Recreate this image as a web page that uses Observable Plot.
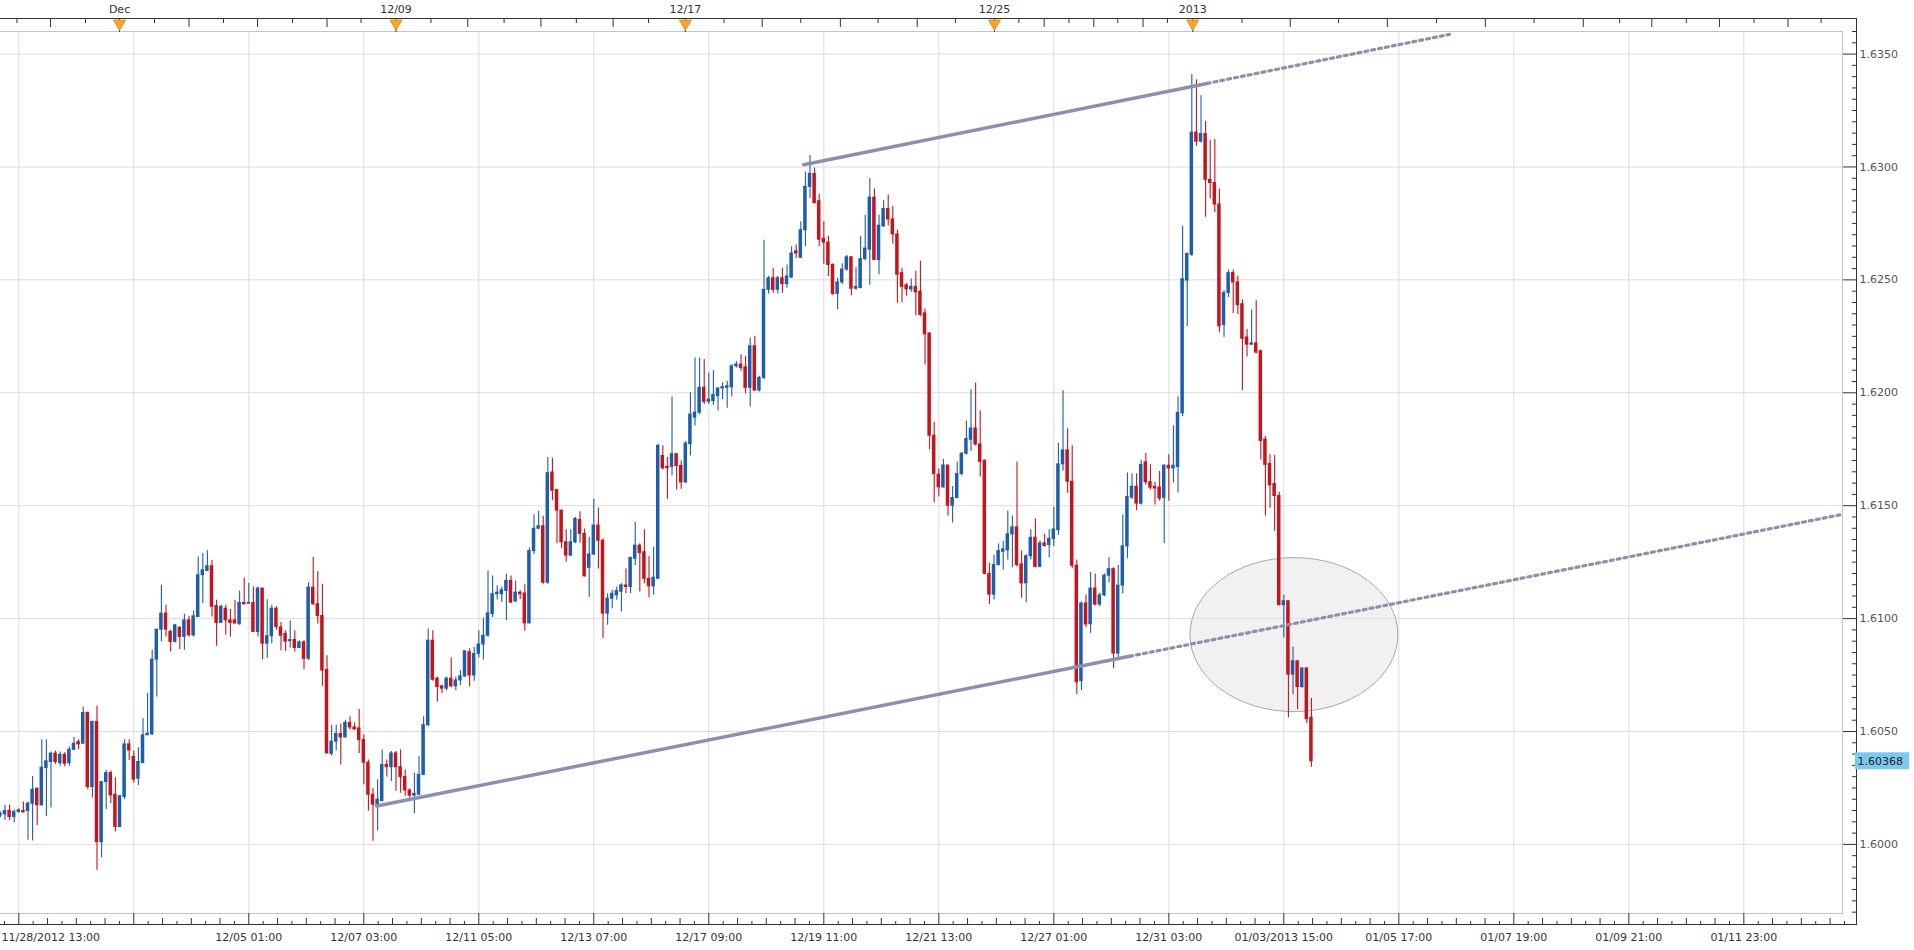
<!DOCTYPE html>
<html><head><meta charset="utf-8">
<script src="https://cdn.jsdelivr.net/npm/d3@7"></script>
<script src="https://cdn.jsdelivr.net/npm/@observablehq/plot@0.6"></script>
<style>html,body{margin:0;padding:0;background:#fff;overflow:hidden}</style>
</head><body><div id="chart"></div>
<script>
// ---- data: 2-hour candles, bar number of the first candle ----
const firstBar = -4;
const open = [
1.60127,1.60133,1.60148,1.60121,1.60143,1.60148,1.60148,1.60180,1.60247,1.60173,
1.60338,1.60365,1.60402,1.60360,1.60397,1.60360,1.60419,1.60453,1.60446,1.60583,
1.60254,1.60542,1.60010,1.60276,1.60316,1.60220,1.60077,1.60210,1.60443,1.60387,
1.60291,1.60360,1.60483,1.60487,1.60818,1.60951,1.61022,1.60941,1.60897,1.60960,
1.60919,1.60992,1.60926,1.61007,1.61192,1.61211,1.61232,1.61055,1.60981,1.61044,
1.60992,1.60992,1.60975,1.61069,1.61066,1.61069,1.60941,1.61133,1.60889,1.60922,
1.61044,1.60961,1.60932,1.60900,1.60905,1.60870,1.60895,1.60822,1.61137,1.61064,
1.61012,1.60773,1.60401,1.60455,1.60489,1.60474,1.60538,1.60518,1.60514,1.60462,
1.60362,1.60220,1.60176,1.60191,1.60352,1.60342,1.60403,1.60342,1.60298,1.60239,
1.60216,1.60220,1.60308,1.60528,1.60902,1.60734,1.60700,1.60690,1.60734,1.60700,
1.60726,1.60744,1.60851,1.60748,1.60844,1.60885,1.60924,1.61020,1.61108,1.61108,
1.61123,1.61167,1.61076,1.61115,1.61111,1.60979,1.61299,1.61398,1.61409,1.61159,
1.61647,1.61569,1.61478,1.61338,1.61279,1.61338,1.61437,1.61375,1.61225,1.61284,
1.61412,1.61345,1.61022,1.61088,1.61103,1.61119,1.61147,1.61140,1.61265,1.61323,
1.61294,1.61176,1.61143,1.61176,1.61720,1.61672,1.61672,1.61728,1.61676,1.61603,
1.61772,1.61890,1.61912,1.62022,1.61960,1.61963,1.61985,1.62019,1.62022,1.62025,
1.62117,1.62125,1.62113,1.62022,1.62206,1.62010,1.62066,1.62456,1.62507,1.62456,
1.62507,1.62481,1.62510,1.62627,1.62598,1.62720,1.62912,1.62969,1.62848,1.62681,
1.62665,1.62566,1.62438,1.62489,1.62546,1.62600,1.62461,1.62464,1.62592,1.62634,
1.62864,1.62588,1.62737,1.62814,1.62768,1.62701,1.62530,1.62476,1.62458,1.62469,
1.62448,1.62352,1.62262,1.61810,1.61637,1.61581,1.61678,1.61500,1.61534,1.61640,
1.61730,1.61792,1.61842,1.61771,1.61699,1.61198,1.61106,1.61237,1.61296,1.61302,
1.61373,1.61404,1.61240,1.61156,1.61276,1.61358,1.61229,1.61333,1.61326,1.61353,
1.61392,1.61683,1.61745,1.61606,1.61234,1.60723,1.61067,1.60975,1.61133,1.61062,
1.61103,1.61190,1.61219,1.60845,1.61146,1.61320,1.61535,1.61584,1.61509,1.61692,
1.61604,1.61584,1.61580,1.61535,1.61677,1.61665,1.61671,1.61909,1.62497,1.62611,
1.63152,1.63112,1.63146,1.62943,1.62929,1.62834,1.62300,1.62442,1.62530,1.62489,
1.62392,1.62245,1.62213,1.62219,1.62184,1.61793,1.61685,1.61596,1.61543,1.61060,
1.61077,1.60752,1.60811,1.60697,1.60779,1.60561];
const high = [
1.60143,1.60173,1.60173,1.60154,1.60158,1.60188,1.60188,1.60301,1.60247,1.60464,
1.60464,1.60409,1.60414,1.60409,1.60406,1.60431,1.60473,1.60464,1.60609,1.60583,
1.60546,1.60613,1.60276,1.60328,1.60325,1.60295,1.60217,1.60464,1.60464,1.60414,
1.60428,1.60557,1.60668,1.60860,1.60951,1.61148,1.61059,1.60948,1.60975,1.60963,
1.61019,1.61010,1.61034,1.61273,1.61288,1.61300,1.61258,1.61081,1.61059,1.61059,
1.61040,1.61081,1.61122,1.61180,1.61155,1.61140,1.61140,1.61133,1.61084,1.61059,
1.61052,1.60983,1.60946,1.60990,1.60946,1.60902,1.60902,1.61159,1.61272,1.61208,
1.61152,1.60836,1.60528,1.60528,1.60533,1.60550,1.60565,1.60538,1.60597,1.60484,
1.60374,1.60249,1.60286,1.60418,1.60374,1.60411,1.60411,1.60418,1.60330,1.60245,
1.60315,1.60389,1.60565,1.60954,1.60946,1.60741,1.60704,1.60741,1.60826,1.60741,
1.60770,1.60858,1.60866,1.60873,1.60946,1.61002,1.61211,1.61189,1.61145,1.61140,
1.61196,1.61189,1.61167,1.61123,1.61152,1.61313,1.61460,1.61475,1.61453,1.61713,
1.61710,1.61573,1.61481,1.61393,1.61393,1.61448,1.61473,1.61397,1.61360,1.61529,
1.61490,1.61353,1.61110,1.61125,1.61140,1.61154,1.61220,1.61272,1.61426,1.61331,
1.61393,1.61275,1.61316,1.61772,1.61765,1.61713,1.61981,1.61731,1.61698,1.61784,
1.62000,1.62154,1.62154,1.62147,1.62088,1.62098,1.62022,1.62044,1.62051,1.62125,
1.62137,1.62169,1.62162,1.62243,1.62250,1.62073,1.62676,1.62515,1.62551,1.62515,
1.62551,1.62566,1.62647,1.62654,1.62757,1.62978,1.63051,1.62995,1.62879,1.62758,
1.62693,1.62572,1.62507,1.62572,1.62608,1.62603,1.62554,1.62693,1.62786,1.62949,
1.62902,1.62786,1.62851,1.62876,1.62825,1.62721,1.62551,1.62484,1.62504,1.62538,
1.62582,1.62371,1.62267,1.61869,1.61663,1.61705,1.61678,1.61585,1.61694,1.61736,
1.61875,1.62015,1.62043,1.61919,1.61702,1.61245,1.61281,1.61330,1.61342,1.61477,
1.61454,1.61694,1.61299,1.61283,1.61393,1.61441,1.61345,1.61373,1.61393,1.61493,
1.61776,1.62009,1.61841,1.61765,1.61260,1.61074,1.61105,1.61204,1.61198,1.61113,
1.61198,1.61271,1.61225,1.61235,1.61459,1.61645,1.61641,1.61641,1.61701,1.61732,
1.61681,1.61604,1.61651,1.61681,1.61726,1.61854,1.61982,1.62736,1.62619,1.63410,
1.63386,1.63315,1.63203,1.63118,1.63122,1.62903,1.62452,1.62544,1.62544,1.62517,
1.62412,1.62280,1.62367,1.62408,1.62189,1.61807,1.61726,1.61722,1.61560,1.61103,
1.61077,1.60874,1.60811,1.60782,1.60782,1.60646];
const low = [
1.60118,1.60106,1.60106,1.60095,1.60139,1.60139,1.60018,1.60015,1.60084,1.60170,
1.60124,1.60161,1.60354,1.60346,1.60343,1.60346,1.60416,1.60419,1.60443,1.60242,
1.60205,1.59885,1.59941,1.60154,1.60180,1.60055,1.60077,1.60198,1.60372,1.60272,
1.60261,1.60360,1.60483,1.60483,1.60653,1.60897,1.60919,1.60852,1.60892,1.60863,
1.60860,1.60919,1.60919,1.61007,1.61066,1.61211,1.61007,1.60877,1.60981,1.60926,
1.60919,1.60978,1.60970,1.61063,1.61063,1.60941,1.60919,1.60818,1.60823,1.60889,
1.60948,1.60858,1.60855,1.60870,1.60851,1.60866,1.60773,1.60814,1.61057,1.60976,
1.60700,1.60400,1.60392,1.60415,1.60352,1.60470,1.60506,1.60506,1.60403,1.60264,
1.60147,1.60014,1.60059,1.60191,1.60298,1.60279,1.60235,1.60227,1.60213,1.60191,
1.60136,1.60216,1.60304,1.60521,1.60723,1.60631,1.60668,1.60680,1.60694,1.60680,
1.60704,1.60738,1.60697,1.60723,1.60826,1.60817,1.60917,1.61005,1.61082,1.61071,
1.60990,1.61067,1.61071,1.61085,1.60944,1.60976,1.61284,1.61394,1.61152,1.61152,
1.61522,1.61331,1.61309,1.61250,1.61275,1.61332,1.61334,1.61184,1.61095,1.61279,
1.61220,1.60912,1.60970,1.61044,1.61081,1.61029,1.61110,1.61110,1.61235,1.61118,
1.61154,1.61092,1.61103,1.61176,1.61657,1.61529,1.61632,1.61569,1.61573,1.61598,
1.61720,1.61853,1.61904,1.61948,1.61948,1.61945,1.61919,1.61970,1.61931,1.61981,
1.62110,1.62095,1.61995,1.61937,1.62007,1.62004,1.62058,1.62437,1.62441,1.62437,
1.62441,1.62463,1.62507,1.62595,1.62595,1.62647,1.62860,1.62836,1.62647,1.62569,
1.62515,1.62430,1.62368,1.62479,1.62538,1.62430,1.62453,1.62461,1.62585,1.62476,
1.62585,1.62523,1.62732,1.62740,1.62659,1.62396,1.62399,1.62427,1.62445,1.62340,
1.62337,1.62123,1.61748,1.61513,1.61539,1.61578,1.61454,1.61423,1.61531,1.61632,
1.61725,1.61740,1.61764,1.61627,1.61194,1.61062,1.61082,1.61234,1.61214,1.61260,
1.61225,1.61229,1.61090,1.61070,1.61260,1.61225,1.61225,1.61317,1.61268,1.61318,
1.61369,1.61652,1.61555,1.61221,1.60664,1.60682,1.60959,1.60935,1.61056,1.61052,
1.61097,1.61158,1.60778,1.60825,1.61109,1.61265,1.61529,1.61478,1.61503,1.61590,
1.61570,1.61503,1.61520,1.61332,1.61520,1.61600,1.61556,1.61894,1.62294,1.62605,
1.63092,1.63106,1.62777,1.62858,1.62797,1.62266,1.62245,1.62422,1.62351,1.62347,
1.62010,1.62158,1.62209,1.62172,1.61702,1.61454,1.61489,1.61387,1.61056,1.60914,
1.60561,1.60663,1.60596,1.60691,1.60535,1.60342];
const close = [
1.60136,1.60148,1.60121,1.60143,1.60151,1.60142,1.60180,1.60242,1.60173,1.60340,
1.60368,1.60402,1.60365,1.60397,1.60357,1.60419,1.60446,1.60443,1.60582,1.60254,
1.60542,1.60010,1.60276,1.60316,1.60217,1.60077,1.60213,1.60443,1.60416,1.60287,
1.60365,1.60483,1.60490,1.60818,1.60951,1.61022,1.60951,1.60897,1.60970,1.60919,
1.60992,1.60926,1.61010,1.61192,1.61214,1.61232,1.61052,1.60981,1.61052,1.60992,
1.60981,1.60978,1.61069,1.61063,1.61069,1.60941,1.61133,1.60889,1.60922,1.61044,
1.60963,1.60924,1.60898,1.60905,1.60870,1.60895,1.60822,1.61137,1.61064,1.61012,
1.60770,1.60403,1.60455,1.60489,1.60474,1.60538,1.60518,1.60509,1.60462,1.60362,
1.60220,1.60176,1.60198,1.60352,1.60342,1.60403,1.60342,1.60298,1.60239,1.60216,
1.60224,1.60308,1.60528,1.60902,1.60729,1.60697,1.60690,1.60734,1.60700,1.60726,
1.60744,1.60855,1.60748,1.60844,1.60885,1.60924,1.61023,1.61108,1.61115,1.61126,
1.61167,1.61071,1.61115,1.61108,1.60979,1.61299,1.61398,1.61409,1.61159,1.61644,
1.61566,1.61478,1.61338,1.61279,1.61338,1.61441,1.61375,1.61187,1.61284,1.61412,
1.61345,1.61022,1.61088,1.61110,1.61122,1.61147,1.61140,1.61269,1.61323,1.61290,
1.61176,1.61143,1.61181,1.61765,1.61666,1.61666,1.61728,1.61676,1.61603,1.61775,
1.61904,1.61912,1.62022,1.61960,1.61970,1.61990,1.62019,1.62025,1.62029,1.62117,
1.62125,1.62110,1.62022,1.62206,1.62010,1.62066,1.62456,1.62507,1.62456,1.62507,
1.62481,1.62515,1.62617,1.62617,1.62720,1.62912,1.62970,1.62840,1.62678,1.62665,
1.62566,1.62438,1.62489,1.62546,1.62600,1.62461,1.62469,1.62592,1.62639,1.62864,
1.62588,1.62740,1.62814,1.62768,1.62701,1.62523,1.62469,1.62458,1.62469,1.62445,
1.62345,1.62259,1.61810,1.61640,1.61581,1.61678,1.61500,1.61534,1.61640,1.61730,
1.61795,1.61842,1.61771,1.61694,1.61198,1.61106,1.61237,1.61299,1.61307,1.61373,
1.61404,1.61237,1.61156,1.61276,1.61358,1.61229,1.61333,1.61322,1.61353,1.61395,
1.61683,1.61745,1.61606,1.61234,1.60718,1.61067,1.60974,1.61133,1.61062,1.61103,
1.61190,1.61219,1.60845,1.61146,1.61320,1.61539,1.61584,1.61509,1.61681,1.61604,
1.61580,1.61576,1.61532,1.61677,1.61665,1.61677,1.61911,1.62503,1.62615,1.63152,
1.63112,1.63146,1.62943,1.62929,1.62834,1.62294,1.62442,1.62530,1.62489,1.62388,
1.62239,1.62213,1.62219,1.62178,1.61787,1.61681,1.61590,1.61543,1.61060,1.61077,
1.60752,1.60811,1.60697,1.60779,1.60555,1.60368];

// axis data
const gridBars = [0,25,50,75,100,125,150,175,200,225,250,275,300,325,350,375];
const bottomLabels = ["11/28/2012 13:00","","12/05 01:00","12/07 03:00","12/11 05:00","12/13 07:00",
  "12/17 09:00","12/19 11:00","12/21 13:00","12/27 01:00","12/31 03:00","01/03/2013 15:00",
  "01/05 17:00","01/07 19:00","01/09 21:00","01/11 23:00"];
const topLabelBars = [21.9, 82.0, 144.9, 212.1, 255.2];
const topLabels = ["Dec","12/09","12/17","12/25","2013"];
const topMajorBars = [6.9,37.0,51.9,67.0,97.6,113.5,129.2,161.6,178.6,195.3,222.9,233.7,244.4,276.4,297.5,318.8,340.1,355.0,369.7,384.6];
const topMinorBars = [-0.4,14.5,29.5,44.5,59.5,74.4,89.6,105.5,121.2,136.9,153.3,170.0,186.8,203.6,217.4,228.3,238.9,249.7,265.9,286.9,308.2,329.4,348.0,362.5,377.2,391.8];
const priceTicks = [1.600,1.605,1.610,1.615,1.620,1.625,1.630,1.635];
const lastPrice = 1.60368;

// drawings
const upperTrend = [{bar:170.6, price:1.63010},{bar:258.3, price:1.63370}];
const upperTrendExt = [{bar:258.3, price:1.63370},{bar:311.0, price:1.63587}];
const lowerTrend = [{bar:77.8, price:1.60170},{bar:241.5, price:1.60833}];
const lowerTrendExt = [{bar:241.5, price:1.60833},{bar:396.5, price:1.61462}];
const ellipseNote = {bar:277.3, price:1.60927, rBars:22.6, rPrice:0.00341};

const candles = open.map((o, i) => ({bar: firstBar + i, open: o, high: high[i], low: low[i], close: close[i]}));
const BLUE = "#1d5dab", RED = "#c4141c", TREND = "#8d8fae", TREND_DOT = "#8e90ab";
const col = d => d.close >= d.open ? BLUE : RED;

const minorPrice = d3.range(3194, 3273).filter(k => k % 10 !== 0).map(k => k / 2000);
const bottomSub = d3.range(-1, 128).map(k => k * 3.125).filter(b => b % 25 !== 0);
const bottomMid = bottomSub.filter(b => b % 6.25 === 0);
const bottomSmall = bottomSub.filter(b => b % 6.25 !== 0);

function ellipseMark(index, {x, y}) {
  const cx = x(ellipseNote.bar), cy = y(ellipseNote.price);
  const rx = x(ellipseNote.bar + ellipseNote.rBars) - cx;
  const ry = y(ellipseNote.price - ellipseNote.rPrice) - cy;
  return d3.create("svg:ellipse").attr("cx", cx).attr("cy", cy).attr("rx", rx).attr("ry", ry)
    .attr("fill", "#e8e8e8").attr("fill-opacity", 0.6).attr("stroke", "#a8a8a8").attr("stroke-width", 1).node();
}
function priceBox(index, {y}, values, {width, marginRight}) {
  return d3.create("svg:rect").attr("x", width - marginRight + 13).attr("y", y(lastPrice) - 8.5)
    .attr("width", 54).attr("height", 17).attr("fill", "#7cc9ef").node();
}

const chart = Plot.plot({
  width: 1914, height: 950,
  marginLeft: 0, marginRight: 72, marginTop: 31, marginBottom: 37,
  style: {fontFamily: "'DejaVu Sans', Verdana, sans-serif", fontSize: "11px", background: "#fff", color: "#333"},
  x: {domain: [-3.978, 396.45], label: null},
  y: {domain: [1.59694, 1.63600], label: null},
  color: {type: "identity"},
  marks: [
    Plot.gridX({ticks: gridBars, stroke: "#dcdcdc", strokeOpacity: 1}),
    Plot.gridY({ticks: priceTicks, stroke: "#dcdcdc", strokeOpacity: 1}),
    Plot.frame({stroke: "#c4c4c4", insetLeft: -3}),
    ellipseMark,
    Plot.ruleX(candles, {x: "bar", y1: "low", y2: "high", stroke: col, strokeWidth: 1.1}),
    Plot.rect(candles, {x1: d => d.bar - 0.38, x2: d => d.bar + 0.38, y1: "open", y2: "close", fill: col, insetTop: -0.5, insetBottom: -0.5}),
    Plot.line(upperTrend, {x: "bar", y: "price", stroke: TREND, strokeWidth: 3.5}),
    Plot.line(lowerTrend, {x: "bar", y: "price", stroke: TREND, strokeWidth: 3.5}),
    Plot.line(upperTrendExt, {x: "bar", y: "price", stroke: TREND_DOT, strokeWidth: 3.2, strokeDasharray: "3,4"}),
    Plot.line(lowerTrendExt, {x: "bar", y: "price", stroke: TREND_DOT, strokeWidth: 3.2, strokeDasharray: "3,4"}),
    // axis box
    Plot.frame({stroke: "#333", insetTop: -13, insetRight: -14, insetBottom: -11, insetLeft: -3}),
    // right axis
    Plot.axisY({anchor: "right", ticks: priceTicks, tickSize: 14, tickPadding: 3, tickFormat: d3.format(".4f"), color: "#333", fill: "#555"}),
    Plot.axisY({anchor: "right", ticks: minorPrice, tickSize: 5, dx: 9, tickFormat: () => "", color: "#333"}),
    // bottom axis
    Plot.axisX({anchor: "bottom", ticks: gridBars, tickSize: 11, tickFormat: () => "", color: "#333"}),
    Plot.axisX({anchor: "bottom", ticks: bottomMid, tickSize: 6, dy: 5, tickFormat: () => "", color: "#333"}),
    Plot.axisX({anchor: "bottom", ticks: bottomSmall, tickSize: 3, dy: 8, tickFormat: () => "", color: "#333"}),
    Plot.axisX({anchor: "bottom", ticks: gridBars.slice(2), tickSize: 0, tickPadding: 20,
      tickFormat: d => bottomLabels[gridBars.indexOf(d)], color: "#333"}),
    Plot.text([bottomLabels[0]], {frameAnchor: "bottom-left", dy: 20, dx: 1, textAnchor: "start", lineAnchor: "top", text: d => d, fill: "#333"}),
    // top axis
    Plot.axisX({anchor: "top", ticks: topMajorBars, tickSize: 8, dy: -5, tickFormat: () => "", color: "#333"}),
    Plot.axisX({anchor: "top", ticks: topMinorBars, tickSize: 4, dy: -9, tickFormat: () => "", color: "#333"}),
    Plot.axisX({anchor: "top", ticks: topLabelBars, tickSize: 13, tickPadding: 6,
      tickFormat: d => topLabels[topLabelBars.indexOf(d)], color: "#333"}),
    Plot.dot(topLabelBars, {x: d => d, frameAnchor: "top", dy: -8, symbol: "triangle", rotate: 180, r: 4.5, fill: "#f3a52e", stroke: "#d98a14", strokeWidth: 0.8}),
    // last price
    priceBox,
    Plot.text([lastPrice], {y: d => d, frameAnchor: "right", dx: 15, textAnchor: "start", text: d => d.toFixed(5), fill: "#222"})
  ]
});
document.getElementById("chart").appendChild(chart);
</script>
</body></html>
